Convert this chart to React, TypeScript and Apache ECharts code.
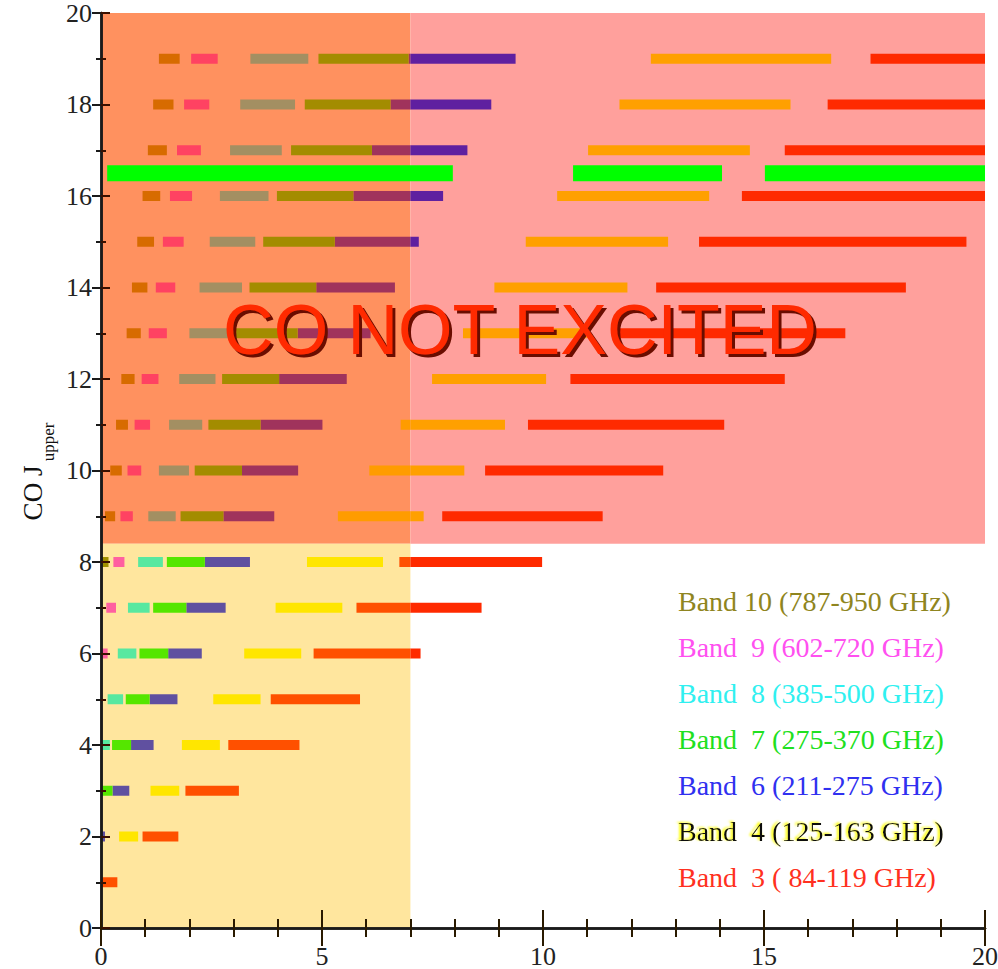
import React, { useEffect, useRef } from 'react';
import * as echarts from 'echarts';

// Redshift ranges (z start / z end) of CO J -> J-1 lines falling in each ALMA band
const B3_J = [1, 2, 3, 4, 5, 6, 7, 8, 9, 10, 11, 12, 13, 14, 15, 16, 17, 18, 19];
const B3_START = [0, 0.94, 1.91, 2.88, 3.84, 4.81, 5.78, 6.75, 7.72, 8.69, 9.66, 10.62, 11.59, 12.56, 13.53, 14.5, 15.47, 16.44, 17.41];
const B3_END = [0.37, 1.75, 3.12, 4.49, 5.86, 7.23, 8.61, 9.98, 11.35, 12.72, 14.1, 15.47, 16.84, 18.21, 19.58, 20, 20, 20, 20];

const B4_J = [2, 3, 4, 5, 6, 7, 8, 9, 10, 11, 12, 13, 14, 15, 16, 17, 18, 19];
const B4_START = [0.41, 1.12, 1.83, 2.54, 3.24, 3.95, 4.66, 5.36, 6.07, 6.78, 7.49, 8.19, 8.9, 9.61, 10.32, 11.02, 11.73, 12.44];
const B4_END = [0.84, 1.77, 2.69, 3.61, 4.53, 5.46, 6.38, 7.3, 8.22, 9.14, 10.07, 10.99, 11.91, 12.83, 13.76, 14.68, 15.6, 16.52];

const B6_J = [2, 3, 4, 5, 6, 7, 8, 9, 10, 11, 12, 13, 14, 15, 16, 17, 18, 19];
const B6_START = [0, 0.26, 0.68, 1.1, 1.52, 1.93, 2.35, 2.77, 3.19, 3.61, 4.03, 4.45, 4.87, 5.29, 5.71, 6.13, 6.55, 6.96];
const B6_END = [0.09, 0.64, 1.19, 1.73, 2.28, 2.82, 3.37, 3.92, 4.46, 5.01, 5.56, 6.1, 6.65, 7.19, 7.74, 8.29, 8.83, 9.38];

const B7_J = [3, 4, 5, 6, 7, 8, 9, 10, 11, 12, 13, 14, 15, 16, 17, 18, 19];
const B7_START = [0, 0.25, 0.56, 0.87, 1.18, 1.49, 1.8, 2.12, 2.43, 2.74, 3.05, 3.36, 3.67, 3.98, 4.3, 4.61, 4.92];
const B7_END = [0.26, 0.68, 1.1, 1.52, 1.93, 2.35, 2.77, 3.19, 3.61, 4.03, 4.45, 4.87, 5.29, 5.71, 6.13, 6.55, 6.96];

const B8_J = [4, 5, 6, 7, 8, 9, 10, 11, 12, 13, 14, 15, 16, 17, 18, 19];
const B8_START = [0, 0.15, 0.38, 0.61, 0.84, 1.07, 1.31, 1.54, 1.77, 2.0, 2.23, 2.46, 2.69, 2.92, 3.15, 3.38];
const B8_END = [0.2, 0.5, 0.8, 1.1, 1.4, 1.69, 1.99, 2.29, 2.59, 2.89, 3.19, 3.49, 3.79, 4.09, 4.39, 4.69];

const B9_J = [6, 7, 8, 9, 10, 11, 12, 13, 14, 15, 16, 17, 18, 19];
const B9_START = [0, 0.12, 0.28, 0.44, 0.6, 0.76, 0.92, 1.08, 1.24, 1.4, 1.56, 1.72, 1.88, 2.04];
const B9_END = [0.15, 0.34, 0.53, 0.72, 0.91, 1.11, 1.3, 1.49, 1.68, 1.87, 2.06, 2.26, 2.45, 2.64];

const B10_J = [7, 8, 9, 10, 11, 12, 13, 14, 15, 16, 17, 18, 19];
const B10_START = [0, 0, 0.09, 0.21, 0.34, 0.46, 0.58, 0.7, 0.82, 0.94, 1.06, 1.18, 1.31];
const B10_END = [0.03, 0.17, 0.32, 0.47, 0.61, 0.76, 0.9, 1.05, 1.2, 1.34, 1.49, 1.64, 1.78];

// green line at J = 16.5
const GREEN_Y = 16.5;
const GREEN_START = [0.14, 10.68, 15.02];
const GREEN_END = [7.96, 14.05, 20];

// background regions [x0, x1, y0, y1]
const REGION_SPLIT_X = 7;
const REGION_SPLIT_Y = 8.4;
const BG_X0 = [0, 7, 0];
const BG_X1 = [7, 20, 7];
const BG_Y0 = [8.4, 8.4, 0];
const BG_Y1 = [20, 20, 8.4];
const BG_COLORS = ['#ff915f', '#ffa09c', '#ffe69e'];

// bar colours by region: lower-left, lower-right, upper-left, upper-right
const BAND_COLORS: Record<string, string[]> = {
  b3: ['#ff5000', '#ff2a00', '#ff6a20', '#ff2a00'],
  b4: ['#ffe600', '#ffe600', '#ff9c00', '#ffa000'],
  b6: ['#6050a0', '#3030ff', '#a0335c', '#5f20a0'],
  b7: ['#55e600', '#00ff00', '#a38c00', '#a38c00'],
  b8: ['#58e8a0', '#00ffff', '#a38f62', '#a38f62'],
  b9: ['#ff60a0', '#ff40ff', '#ff4262', '#ff4262'],
  b10: ['#a09000', '#a09000', '#d76b00', '#d76b00'],
};

const LEGEND_LABELS = [
  'Band 10 (787-950 GHz)',
  'Band \u00a09 (602-720 GHz)',
  'Band \u00a08 (385-500 GHz)',
  'Band \u00a07 (275-370 GHz)',
  'Band \u00a06 (211-275 GHz)',
  'Band \u00a04 (125-163 GHz)',
  'Band \u00a03 ( 84-119 GHz)',
];
const LEGEND_COLORS = ['#8f8520', '#ff50f0', '#30f0f0', '#20e020', '#3030f0', '#111111', '#ff3020'];

const X_TICKS = [0, 5, 10, 15, 20];
const Y_TICKS = [0, 2, 4, 6, 8, 10, 12, 14, 16, 18, 20];

const BAND_KEYS = ['b3', 'b4', 'b6', 'b7', 'b8', 'b9', 'b10'];
const BAND_TABLE: [number[], number[], number[]][] = [
  [B3_J, B3_START, B3_END],
  [B4_J, B4_START, B4_END],
  [B6_J, B6_START, B6_END],
  [B7_J, B7_START, B7_END],
  [B8_J, B8_START, B8_END],
  [B9_J, B9_START, B9_END],
  [B10_J, B10_START, B10_END],
];

const SERIF = 'Liberation Serif';

export default function App() {
  const ref = useRef<HTMLDivElement>(null);

  useEffect(() => {
    if (!ref.current) return;
    const chart = echarts.init(ref.current, undefined, { renderer: 'svg' });

    const barData: number[][] = [];
    BAND_TABLE.forEach(([js, s, e], bi) => {
      js.forEach((j, k) => barData.push([s[k], e[k], j, bi]));
    });
    const bgData = BG_X0.map((x0, i) => [x0, BG_X1[i], BG_Y0[i], BG_Y1[i], i]);
    const greenData = GREEN_START.map((s, i) => [s, GREEN_END[i], GREEN_Y]);

    const BAR_H = 10;

    const legendGraphics: any[] = LEGEND_LABELS.map((lab, i) => {
      const y = 601 + i * 46.1;
      const style: any = {
        text: lab, fill: LEGEND_COLORS[i], fontSize: 28, fontFamily: SERIF,
        textAlign: 'left', textVerticalAlign: 'middle',
      };
      if (i === 5) {
        style.textShadowColor = '#ffff00';
        style.textShadowBlur = 2;
        style.textShadowOffsetX = -2;
        style.textShadowOffsetY = -1;
      }
      return { type: 'text', x: 678, y, z: 101, style };
    });

    const axisCommon = {
      type: 'value' as const,
      min: 0,
      max: 20,
      z: 20,
      splitLine: { show: false },
      axisLine: { show: true, lineStyle: { color: '#1a1a1a', width: 2.5 } },
    };

    chart.setOption({
      animation: false,
      grid: { left: 101, top: 13, width: 884, height: 915, containLabel: false },
      xAxis: [
        {
          ...axisCommon,
          position: 'bottom',
          interval: 5,
          axisTick: { show: true, inside: true, length: 18, lineStyle: { color: '#2a1a00', width: 2 } },
          minorTick: { show: true, splitNumber: 5, length: 9, lineStyle: { color: '#2a1a00', width: 2 } },
          axisLabel: { show: true, fontSize: 26, fontFamily: SERIF, color: '#222', margin: 15,
            customValues: X_TICKS },
        },
        {
          ...axisCommon,
          position: 'top',
          interval: 5,
          axisTick: { show: true, inside: true, length: 18, lineStyle: { color: '#2a1a00', width: 2 } },
          minorTick: { show: true, splitNumber: 5, length: 9, lineStyle: { color: '#2a1a00', width: 2 } },
          axisLabel: { show: false },
        },
      ],
      yAxis: [
        {
          ...axisCommon,
          position: 'left',
          interval: 2,
          axisTick: { show: true, inside: true, length: 9, lineStyle: { color: '#3a1000', width: 2 } },
          minorTick: { show: true, splitNumber: 2, length: 5, lineStyle: { color: '#3a1000', width: 2 } },
          axisLabel: { show: true, fontSize: 26, fontFamily: SERIF, color: '#222', margin: 9,
            customValues: Y_TICKS },
        },
        {
          ...axisCommon,
          position: 'right',
          interval: 2,
          axisTick: { show: true, inside: true, length: 9, lineStyle: { color: '#1a1a1a', width: 2 } },
          minorTick: { show: true, splitNumber: 2, length: 5, lineStyle: { color: '#1a1a1a', width: 2 } },
          axisLabel: { show: false },
        },
      ],
      graphic: [
        {
          type: 'text', x: 33, y: 493, rotation: Math.PI / 2, z: 100,
          style: { text: 'CO J', fill: '#111', fontSize: 27, fontFamily: SERIF, textAlign: 'center', textVerticalAlign: 'middle' },
        },
        {
          type: 'text', x: 48, y: 442, rotation: Math.PI / 2, z: 100,
          style: { text: 'upper', fill: '#111', fontSize: 17, fontFamily: SERIF, textAlign: 'center', textVerticalAlign: 'middle' },
        },
        {
          type: 'text', x: 520, y: 330, z: 101,
          style: {
            text: 'CO NOT EXCITED', fill: '#ff2a00', fontSize: 70, fontFamily: 'Liberation Sans',
            textAlign: 'center', textVerticalAlign: 'middle',
            textShadowColor: '#6a0800', textShadowBlur: 1, textShadowOffsetX: 3, textShadowOffsetY: 3,
          },
        },
        ...legendGraphics,
      ],
      series: [
        {
          type: 'custom',
          name: 'background',
          z: 1,
          silent: true,
          xAxisIndex: 0,
          yAxisIndex: 0,
          data: bgData,
          renderItem: (_p: any, api: any) => {
            const a = api.coord([api.value(0), api.value(3)]);
            const b = api.coord([api.value(1), api.value(2)]);
            return {
              type: 'rect',
              shape: { x: a[0], y: a[1], width: b[0] - a[0], height: b[1] - a[1] },
              style: { fill: BG_COLORS[api.value(4)] },
            };
          },
        },
        {
          type: 'custom',
          name: 'bands',
          z: 2,
          silent: true,
          xAxisIndex: 0,
          yAxisIndex: 0,
          data: barData,
          renderItem: (_p: any, api: any) => {
            const z0 = api.value(0);
            const z1 = api.value(1);
            const j = api.value(2);
            const key = BAND_KEYS[api.value(3)];
            const upper = j > REGION_SPLIT_Y;
            const parts: [number, number, boolean][] = [];
            if (z0 < REGION_SPLIT_X && z1 > REGION_SPLIT_X) {
              parts.push([z0, REGION_SPLIT_X, true], [REGION_SPLIT_X, z1, false]);
            } else {
              parts.push([z0, z1, z0 < REGION_SPLIT_X]);
            }
            const children = parts.map(([a, b, left]) => {
              const p0 = api.coord([a, j]);
              const p1 = api.coord([b, j]);
              const idx = (upper ? 2 : 0) + (left ? 0 : 1);
              return {
                type: 'rect',
                shape: { x: p0[0], y: p0[1] - BAR_H / 2, width: Math.max(p1[0] - p0[0], 1.5), height: BAR_H },
                style: { fill: BAND_COLORS[key][idx] },
              };
            });
            return { type: 'group', children };
          },
        },
        {
          type: 'custom',
          name: 'green',
          z: 3,
          silent: true,
          xAxisIndex: 0,
          yAxisIndex: 0,
          data: greenData,
          renderItem: (_p: any, api: any) => {
            const p0 = api.coord([api.value(0), api.value(2)]);
            const p1 = api.coord([api.value(1), api.value(2)]);
            return {
              type: 'rect',
              shape: { x: p0[0], y: p0[1] - 8, width: p1[0] - p0[0], height: 16 },
              style: { fill: '#00ff00' },
            };
          },
        },
      ],
    });

    return () => chart.dispose();
  }, []);

  return (
    <div style={{ position: 'fixed', left: 0, top: 0, width: 998, height: 969, overflow: 'hidden', background: '#fff' }}>
      <div ref={ref} style={{ width: 1012, height: 969 }} />
    </div>
  );
}
